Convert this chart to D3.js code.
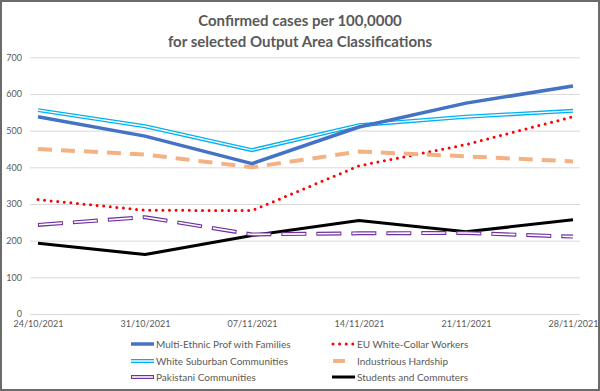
<!DOCTYPE html>
<html><head><meta charset="utf-8">
<script src="https://cdn.jsdelivr.net/npm/d3@7"></script>
<style>
html,body{margin:0;padding:0;background:#fff;}
svg{display:block;font-family:Lato, "Open Sans", sans-serif;}
</style></head>
<body>
<script>
const dates = ["24/10/2021","31/10/2021","07/11/2021","14/11/2021","21/11/2021","28/11/2021"];
const multiEthnic = [538, 485, 410, 510, 575, 622];
const whiteSuburban = [556, 512, 447, 515, 538, 554];
const euWhiteCollar = [312, 283, 282, 404, 462, 538];
const industrious = [450, 435, 400, 443, 430, 416];
const pakistani = [243, 264, 217, 220, 221, 211];
const students = [193, 162, 214, 255, 224, 257];
const yTicks = [0,100,200,300,400,500,600,700];

const series = [
  {name:"Multi-Ethnic Prof with Families", values:multiEthnic, style:"blue"},
  {name:"EU White-Collar Workers", values:euWhiteCollar, style:"red"},
  {name:"White Suburban Communities", values:whiteSuburban, style:"cyan"},
  {name:"Industrious Hardship", values:industrious, style:"orange"},
  {name:"Pakistani Communities", values:pakistani, style:"purple"},
  {name:"Students and Commuters", values:students, style:"black"}
];

const W=600,H=391;
const svg=d3.select("body").append("svg").attr("width",W).attr("height",H);
svg.append("rect").attr("x",1).attr("y",1).attr("width",W-2).attr("height",H-2)
  .attr("fill","#fff").attr("stroke","#6b6b6b").attr("stroke-width",2);

svg.append("text").attr("x",300).attr("y",26).attr("text-anchor","middle")
  .attr("font-size",15).attr("font-weight","bold").attr("fill","#595959")
  .text("Confirmed cases per 100,0000");
svg.append("text").attr("x",300).attr("y",47).attr("text-anchor","middle")
  .attr("font-size",15).attr("font-weight","bold").attr("fill","#595959")
  .text("for selected Output Area Classifications");

const x=d3.scalePoint().domain(dates).range([38,573]);
const y=d3.scaleLinear().domain([0,700]).range([314,57.3]);

// grid
const yAxis=d3.axisLeft(y).tickValues(yTicks).tickSize(-(580-30)).tickPadding(8);
const gy=svg.append("g").attr("transform","translate(30,0)").call(yAxis);
gy.select(".domain").remove();
gy.selectAll(".tick line").attr("stroke","#d9d9d9").attr("stroke-width",1);
gy.selectAll(".tick text").attr("fill","#595959").attr("font-size",9).attr("font-family","Lato, sans-serif");

const xAxis=d3.axisBottom(x).tickSize(0).tickPadding(7);
const gx=svg.append("g").attr("transform","translate(0,314)").call(xAxis);
gx.select(".domain").remove();
gx.selectAll(".tick text").attr("fill","#595959").attr("font-size",9).attr("font-family","Lato, sans-serif");

const line=d3.line().x((d,i)=>x(dates[i])).y(d=>y(d));

function drawStyled(g, pathD, style){
  if(style==="blue"){
    g.append("path").attr("d",pathD).attr("fill","none").attr("stroke","#4472C4").attr("stroke-width",3.5).attr("stroke-linejoin","round");
  } else if(style==="cyan"){
    g.append("path").attr("d",pathD).attr("fill","none").attr("stroke","#00B0F0").attr("stroke-width",4);
    g.append("path").attr("d",pathD).attr("fill","none").attr("stroke","#fff").attr("stroke-width",1.4);
  } else if(style==="red"){
    g.append("path").attr("d",pathD).attr("fill","none").attr("stroke","#FF0000").attr("stroke-width",3)
      .attr("stroke-linecap","round").attr("stroke-dasharray","0 6.6");
  } else if(style==="orange"){
    g.append("path").attr("d",pathD).attr("fill","none").attr("stroke","#F4B183").attr("stroke-width",4)
      .attr("stroke-dasharray","14 9");
  } else if(style==="purple"){
    g.append("path").attr("d",pathD).attr("fill","none").attr("stroke","#7030A0").attr("stroke-width",4)
      .attr("stroke-dasharray","25 10");
    g.append("path").attr("d",pathD).attr("fill","none").attr("stroke","#fff").attr("stroke-width",1.6)
      .attr("stroke-dasharray","23 12").attr("stroke-dashoffset",-1);
  } else if(style==="black"){
    g.append("path").attr("d",pathD).attr("fill","none").attr("stroke","#000").attr("stroke-width",3).attr("stroke-linejoin","round");
  }
}

const drawOrder=["black","purple","red","orange","cyan","blue"];
drawOrder.forEach(st=>{
  const s=series.find(d=>d.style===st);
  drawStyled(svg.append("g"), line(s.values), st);
});

// legend
const legendRows=[344,361,377];
const legendCols=[[131,154,156],[332,355,357]];
series.forEach((s,i)=>{
  const col=legendCols[i%2], row=legendRows[Math.floor(i/2)];
  const g=svg.append("g");
  if(s.style==="orange"){
    g.append("path").attr("d",`M${col[0]+1},${row}L${col[0]+13},${row}`).attr("fill","none").attr("stroke","#F4B183").attr("stroke-width",4);
  } else if(s.style==="red"){
    g.append("path").attr("d",`M${col[0]+1},${row}L${col[1]+1},${row}`).attr("fill","none").attr("stroke","#FF0000").attr("stroke-width",3)
      .attr("stroke-linecap","round").attr("stroke-dasharray","0 6.6");
  } else if(s.style==="purple"){
    g.append("path").attr("d",`M${col[0]},${row}L${col[1]},${row}`).attr("fill","none").attr("stroke","#7030A0").attr("stroke-width",4);
    g.append("path").attr("d",`M${col[0]+1},${row}L${col[1]-1},${row}`).attr("fill","none").attr("stroke","#fff").attr("stroke-width",1.6);
  } else {
    drawStyled(g, `M${col[0]},${row}L${col[1]},${row}`, s.style);
  }
  g.append("text").attr("x",col[2]).attr("y",row).attr("dy","0.35em")
    .attr("font-size",10).attr("fill","#595959").text(s.name);
});
</script>
</body></html>
